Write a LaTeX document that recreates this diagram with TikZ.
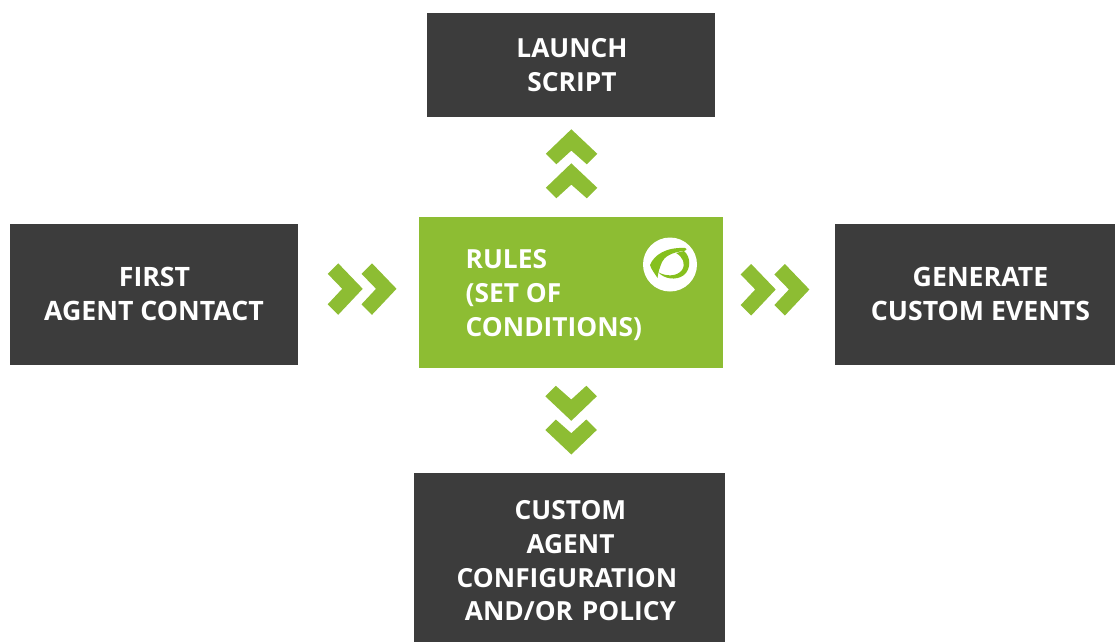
\documentclass[tikz,border=0pt]{standalone}
\usepackage{fontspec}
\setmainfont{Open Sans}
\definecolor{darkbox}{HTML}{3C3C3C}
\definecolor{leaf}{HTML}{8DBD33}
\definecolor{logogreen}{HTML}{86C01E}
\tikzset{
  x=1pt,y=-1pt,
  box/.style={fill=darkbox,text=white,inner sep=0pt,align=center,font=\fontsize{26.3}{33.7}\selectfont\bfseries},
  widebox/.style={box,font=\fontsize{26.7}{33.7}\selectfont\bfseries},
  rulebox/.style={fill=leaf,inner sep=0pt},
  lab/.style={text=white,inner sep=0pt,align=left,anchor=north west,font=\fontsize{26.3}{33.7}\selectfont\bfseries},
  chev/.style={fill=leaf,draw=none},
}
\newcommand{\chevron}[4]{% tip x, tip y, rotation, notch depth
  \fill[chev,shift={(#1,#2)},rotate=#3] (0,0)--(-24.5,-25.5)--(-35,-15)--(-#4,0)--(-35,15.5)--(-24.5,26)--cycle;}
\begin{document}
\begin{tikzpicture}
\useasboundingbox (0,0) rectangle (1115,642);
\node[box,minimum width=288pt,minimum height=104pt] (launch) at (571,65) {\hspace*{2pt}LAUNCH\\\hspace*{2pt}SCRIPT};
\node[widebox,minimum width=288pt,minimum height=141pt] (first) at (154,294) {\hspace*{1pt}FIRST\\AGENT CONTACT};
\node[rulebox,minimum width=304pt,minimum height=151pt] (rules) at (571,292.5) {};
\node[widebox,minimum width=280pt,minimum height=141pt] (events) at (975,294) {\hspace*{11pt}GENERATE\\\hspace*{11pt}CUSTOM EVENTS};
\fill[darkbox] (414,473) rectangle (725,642);
\node[box,fill=none,text width=311pt] (policy) at (569.5,561) {\hspace*{2pt}CUSTOM\\\hspace*{2pt}AGENT\\\hspace*{-5pt}CONFIGURATION\\\hspace*{2pt}AND/OR POLICY};
\node[lab] (rulestext) at (465.5,249.5) {RULES\\(SET OF\\CONDITIONS)};
% logo
\node[circle,fill=white,minimum size=54pt,inner sep=0pt] (logo) at (670,264.5) {};
\fill[logogreen] (650,265) .. controls (654,255) and (666,247) .. (685,248)
  .. controls (688,249) and (686,251) .. (684,251)
  .. controls (672,252) and (664,257) .. (662,262) .. controls (660,267) and (658,272) .. (657.5,278)
  .. controls (655,274) and (651,269) .. (650,265) -- cycle;
\fill[logogreen] (684,251) .. controls (691,257) and (691,269) .. (684,275)
  .. controls (676,281) and (664,279) .. (658,272) .. controls (665,276.5) and (677,277) .. (682,270)
  .. controls (686,264) and (683,257) .. (676,253) -- cycle;
% chevrons
\chevron{362.7}{288.8}{0}{20.5}
\chevron{396.5}{288.8}{0}{20.5}
\chevron{775.7}{289.5}{0}{20.5}
\chevron{809.4}{289.5}{0}{20.5}
\chevron{571.3}{129.3}{90}{21.3}
\chevron{571.3}{163.3}{90}{21.3}
\chevron{571.3}{420.8}{-90}{21.3}
\chevron{571.3}{454.5}{-90}{21.3}
\end{tikzpicture}
\end{document}
